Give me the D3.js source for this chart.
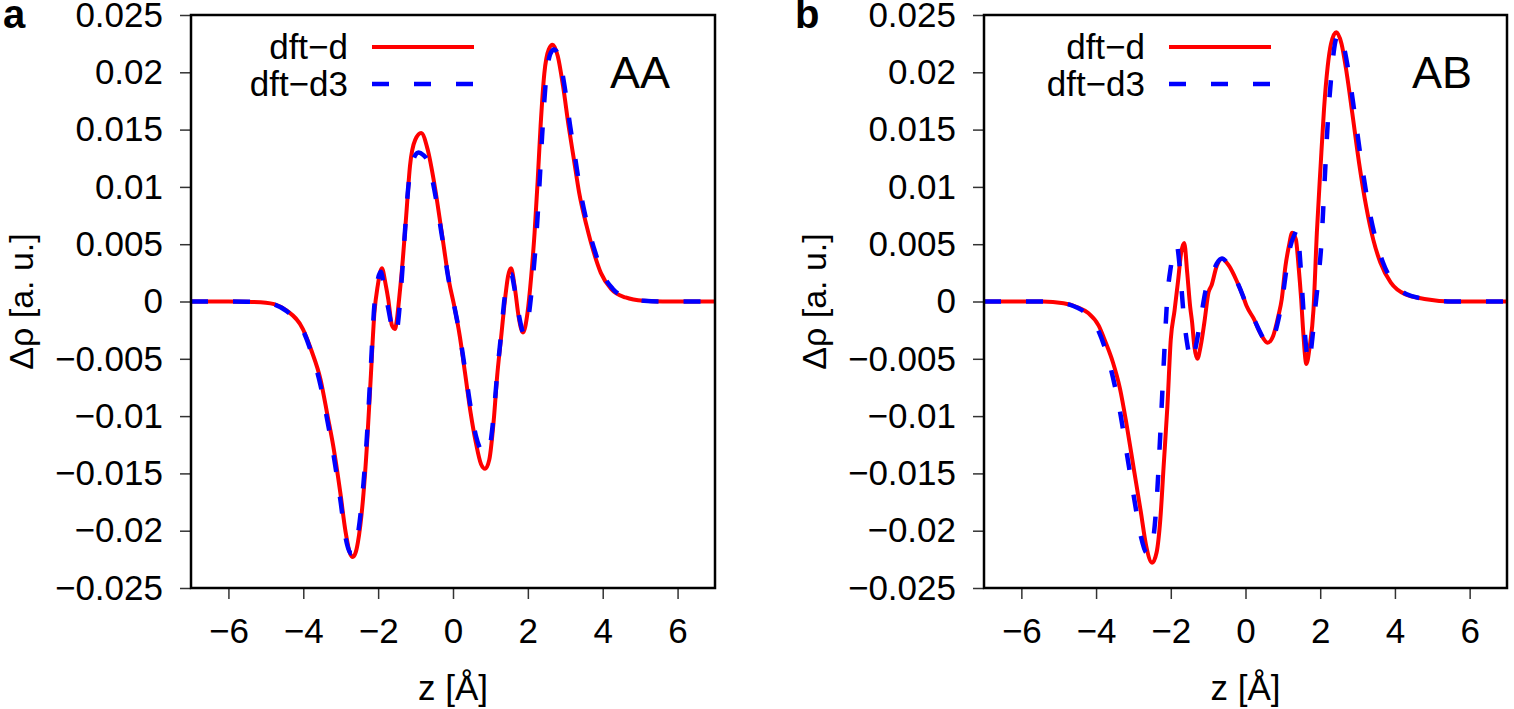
<!DOCTYPE html>
<html>
<head>
<meta charset="utf-8">
<script src="https://cdn.jsdelivr.net/npm/d3@7"></script>
<style>
  body { margin: 0; background: #fff; }
  text { font-family: "Liberation Sans", Arial, sans-serif; fill: #000; }
</style>
</head>
<body>
<svg id="chart" width="1514" height="709"></svg>
<script>
// Tick values
const zTicks = [-6, -4, -2, 0, 2, 4, 6];
const rhoTicks = [-0.025, -0.02, -0.015, -0.01, -0.005, 0, 0.005, 0.01, 0.015, 0.02, 0.025];

// Series names
const seriesNames = ["dft\u2212d", "dft\u2212d3"];

// Panel a (AA) - dft-d
const aaZ_d = [-7, -6, -5.5, -5.0, -4.78, -4.44, -4.01, -3.78, -3.54, -3.35, -3.2, -3.01, -2.87, -2.75, -2.68, -2.6, -2.54, -2.39, -2.3, -2.2, -2.1, -2.01, -1.9, -1.8, -1.73, -1.63, -1.55, -1.5, -1.44, -1.34, -1.25, -1.15, -1.01, -0.85, -0.68, -0.49, -0.3, -0.1, 0.04, 0.18, 0.32, 0.47, 0.61, 0.75, 0.86, 0.97, 1.09, 1.18, 1.28, 1.39, 1.47, 1.55, 1.66, 1.75, 1.87, 1.99, 2.09, 2.18, 2.26, 2.34, 2.44, 2.56, 2.66, 2.8, 2.94, 3.09, 3.23, 3.37, 3.57, 3.76, 3.95, 4.23, 4.61, 5.09, 5.6, 7];
const aaRho_d = [0, 0, -0.00002, -0.0001, -0.00023, -0.0008, -0.0024, -0.0043, -0.0068, -0.01, -0.0126, -0.0167, -0.0201, -0.022, -0.0223, -0.0219, -0.021, -0.0167, -0.0126, -0.0068, -0.001, 0.0014, 0.0029, 0.0015, 0.0002, -0.0021, -0.0024, -0.0016, 0.0002, 0.0037, 0.0075, 0.0118, 0.0141, 0.0147, 0.0133, 0.0101, 0.006, 0.00165, -0.0005, -0.003, -0.0062, -0.0097, -0.0123, -0.0142, -0.0146, -0.0138, -0.0103, -0.0065, -0.0033, 0.0002, 0.0022, 0.0029, 0.001, -0.00125, -0.0027, -0.001, 0.0022, 0.006, 0.0104, 0.0153, 0.0199, 0.022, 0.0224, 0.0214, 0.0188, 0.0153, 0.0124, 0.0095, 0.0066, 0.0043, 0.0025, 0.00107, 0.00035, 0.00006, 0, 0];

// Panel a (AA) - dft-d3
const aaZ_d3 = [-7, -6, -5.5, -5.0, -4.78, -4.44, -4.01, -3.78, -3.54, -3.35, -3.2, -3.01, -2.87, -2.75, -2.7, -2.6, -2.54, -2.39, -2.3, -2.2, -2.1, -2.01, -1.93, -1.85, -1.73, -1.6, -1.52, -1.46, -1.38, -1.3, -1.2, -1.07, -0.92, -0.8, -0.68, -0.49, -0.3, -0.1, 0.04, 0.18, 0.32, 0.47, 0.61, 0.75, 0.85, 0.97, 1.09, 1.18, 1.28, 1.39, 1.47, 1.55, 1.66, 1.75, 1.9, 2.02, 2.12, 2.22, 2.3, 2.38, 2.48, 2.6, 2.7, 2.84, 2.98, 3.13, 3.27, 3.41, 3.6, 3.8, 3.99, 4.27, 4.65, 5.1, 5.6, 7];
const aaRho_d3 = [0, 0, -0.00002, -0.0001, -0.00025, -0.00085, -0.0025, -0.0045, -0.0073, -0.0105, -0.0132, -0.0173, -0.0206, -0.0219, -0.022, -0.0213, -0.0203, -0.0158, -0.0118, -0.006, -0.0003, 0.0019, 0.0026, 0.0015, -0.0006, -0.0026, -0.0029, -0.0016, 0.0015, 0.0053, 0.0098, 0.0123, 0.013, 0.0128, 0.0123, 0.0096, 0.0058, 0.0016, -0.0005, -0.0029, -0.0059, -0.0092, -0.0117, -0.013, -0.0133, -0.0128, -0.0098, -0.0063, -0.003, 0.0006, 0.002, 0.0024, 0.0008, -0.001, -0.0028, -0.0013, 0.0016, 0.0054, 0.0096, 0.0144, 0.0192, 0.0216, 0.022, 0.0212, 0.0188, 0.0153, 0.0124, 0.0095, 0.0066, 0.0043, 0.0025, 0.0011, 0.00035, 0.00006, 0, 0];

// Panel b (AB) - dft-d
const abZ_d = [-7, -5.44, -4.87, -4.5, -4.21, -3.93, -3.74, -3.55, -3.36, -3.18, -2.99, -2.8, -2.66, -2.5, -2.38, -2.28, -2.19, -2.09, -2.0, -1.9, -1.81, -1.72, -1.64, -1.56, -1.48, -1.43, -1.37, -1.29, -1.2, -1.1, -0.99, -0.91, -0.77, -0.63, -0.44, -0.25, -0.07, 0.03, 0.22, 0.41, 0.59, 0.74, 0.88, 0.97, 1.07, 1.16, 1.25, 1.35, 1.42, 1.49, 1.54, 1.63, 1.72, 1.82, 1.91, 2.01, 2.1, 2.2, 2.29, 2.43, 2.57, 2.71, 2.86, 3.04, 3.23, 3.42, 3.61, 3.89, 4.27, 4.84, 5.5, 7];
const abRho_d = [0, 0, -0.00015, -0.0005, -0.001, -0.0021, -0.0036, -0.0053, -0.0076, -0.0108, -0.0146, -0.0184, -0.0213, -0.0228, -0.0219, -0.019, -0.0143, -0.0091, -0.0033, -0.0008, 0.00165, 0.0043, 0.0051, 0.0025, -0.0005, -0.0018, -0.0039, -0.005, -0.0039, -0.0018, 0.0008, 0.0014, 0.0031, 0.00374, 0.0031, 0.0019, 0.0005, -0.0004, -0.0015, -0.00285, -0.0036, -0.003, -0.00125, 0.0002, 0.0031, 0.0048, 0.006, 0.0054, 0.0031, 0.0002, -0.0024, -0.00545, -0.0039, -0.0007, 0.006, 0.0118, 0.0167, 0.0205, 0.0225, 0.0235, 0.0225, 0.0199, 0.0164, 0.0121, 0.0083, 0.0054, 0.0034, 0.00165, 0.00064, 0.0002, 0, 0];

// Panel b (AB) - dft-d3
const abZ_d3 = [-7, -5.44, -4.87, -4.5, -4.21, -3.93, -3.74, -3.55, -3.36, -3.18, -2.99, -2.8, -2.66, -2.57, -2.48, -2.38, -2.28, -2.19, -2.09, -2.0, -1.9, -1.84, -1.76, -1.66, -1.55, -1.45, -1.35, -1.2, -1.05, -0.91, -0.77, -0.63, -0.44, -0.25, -0.07, 0.03, 0.22, 0.41, 0.59, 0.74, 0.88, 0.99, 1.1, 1.2, 1.32, 1.39, 1.45, 1.53, 1.6, 1.7, 1.78, 1.86, 1.95, 2.03, 2.11, 2.2, 2.3, 2.4, 2.5, 2.62, 2.78, 2.93, 3.11, 3.3, 3.49, 3.68, 3.95, 4.3, 4.85, 5.5, 7];
const abRho_d3 = [0, 0, -0.00015, -0.00055, -0.0012, -0.0026, -0.0043, -0.0066, -0.0096, -0.0132, -0.017, -0.0205, -0.0219, -0.022, -0.021, -0.0175, -0.0115, -0.0055, 0.0005, 0.003, 0.0046, 0.0049, 0.003, -0.001, -0.0039, -0.0052, -0.0042, -0.0015, 0.0012, 0.0022, 0.0033, 0.00375, 0.0031, 0.0019, 0.0005, -0.0004, -0.0015, -0.0028, -0.0037, -0.0032, -0.0016, 0.0003, 0.0029, 0.0048, 0.0059, 0.0063, 0.0042, 0.0003, -0.0032, -0.0053, -0.0035, -0.0008, 0.002, 0.005, 0.01, 0.0155, 0.0198, 0.0226, 0.0234, 0.0224, 0.0196, 0.0162, 0.012, 0.0082, 0.0054, 0.0034, 0.0017, 0.00065, 0.0002, 0, 0];

const svg = d3.select("#chart");
svg.append("rect").attr("width", 1514).attr("height", 709).attr("fill", "#fff");

const panels = [
  { tag: "a", name: "AA", left: 191, right: 715, tagX: 3, nameX: 610, legendX: 348,
    series: [{ z: aaZ_d, rho: aaRho_d }, { z: aaZ_d3, rho: aaRho_d3 }] },
  { tag: "b", name: "AB", left: 984, right: 1507, tagX: 795, nameX: 1412, legendX: 1145,
    series: [{ z: abZ_d, rho: abRho_d }, { z: abZ_d3, rho: abRho_d3 }] }
];
const plotTop = 15, plotBottom = 588;
const styles = [
  { color: "#ff0000", width: 4, dash: null },
  { color: "#0000ff", width: 4.5, dash: "17,25" }
];

panels.forEach(p => {
  const x = d3.scaleLinear().domain([-7, 7]).range([p.left, p.right]);
  const y = d3.scaleLinear().domain([-0.025, 0.025]).range([plotBottom, plotTop]);

  // Axes (ticks outward)
  const yAxis = svg.append("g")
    .attr("transform", `translate(${p.left},0)`)
    .call(d3.axisLeft(y).tickValues(rhoTicks).tickSize(11).tickPadding(17).tickFormat(d3.format("")));
  const xAxis = svg.append("g")
    .attr("transform", `translate(0,${plotBottom})`)
    .call(d3.axisBottom(x).tickValues(zTicks).tickSize(11).tickPadding(19).tickFormat(d3.format("")));
  [yAxis, xAxis].forEach(ax => {
    ax.select(".domain").remove();
    ax.selectAll(".tick line").attr("stroke", "#333").attr("stroke-width", 1.5);
    ax.selectAll(".tick text").style("font-size", "35px").attr("fill", "#000");
  });

  // Curves
  const clipId = "clip-" + p.tag;
  svg.append("clipPath").attr("id", clipId).append("rect")
    .attr("x", p.left).attr("y", plotTop).attr("width", p.right - p.left).attr("height", plotBottom - plotTop);

  const line = d3.line()
    .x(d => x(d[0]))
    .y(d => y(d[1]))
    .curve(d3.curveMonotoneX);

  p.series.forEach((s, i) => {
    const pts = s.z.map((z, k) => [z, s.rho[k]]);
    svg.append("path")
      .datum(pts)
      .attr("clip-path", `url(#${clipId})`)
      .attr("fill", "none")
      .attr("stroke", styles[i].color)
      .attr("stroke-width", styles[i].width)
      .attr("stroke-dasharray", styles[i].dash)
      .attr("d", line);
  });

  // Frame
  svg.append("rect")
    .attr("x", p.left).attr("y", plotTop)
    .attr("width", p.right - p.left).attr("height", plotBottom - plotTop)
    .attr("fill", "none").attr("stroke", "#000").attr("stroke-width", 2.5);

  // Legend
  seriesNames.forEach((name, i) => {
    const ly = 47 + i * 37;
    svg.append("text")
      .attr("x", p.legendX).attr("y", ly + 12)
      .attr("text-anchor", "end")
      .style("font-size", "35px")
      .text(name);
    svg.append("line")
      .attr("x1", p.legendX + 24).attr("x2", p.legendX + 126)
      .attr("y1", ly).attr("y2", ly)
      .attr("stroke", styles[i].color)
      .attr("stroke-width", styles[i].width)
      .attr("stroke-dasharray", styles[i].dash);
  });

  // Stacking name
  svg.append("text")
    .attr("x", p.nameX).attr("y", 88)
    .style("font-size", "45px")
    .text(p.name);

  // Panel tag
  svg.append("text")
    .attr("x", p.tagX).attr("y", 28)
    .style("font-size", "40px").style("font-weight", "bold")
    .text(p.tag);

  // Axis titles
  svg.append("text")
    .attr("transform", `translate(${p.left - 158},${(plotTop + plotBottom) / 2}) rotate(-90)`)
    .attr("text-anchor", "middle")
    .style("font-size", "34px")
    .text("\u0394\u03c1 [a. u.]");
  svg.append("text")
    .attr("x", (p.left + p.right) / 2).attr("y", 700)
    .attr("text-anchor", "middle")
    .style("font-size", "35px")
    .text("z [\u00c5]");
});
</script>
</body>
</html>
